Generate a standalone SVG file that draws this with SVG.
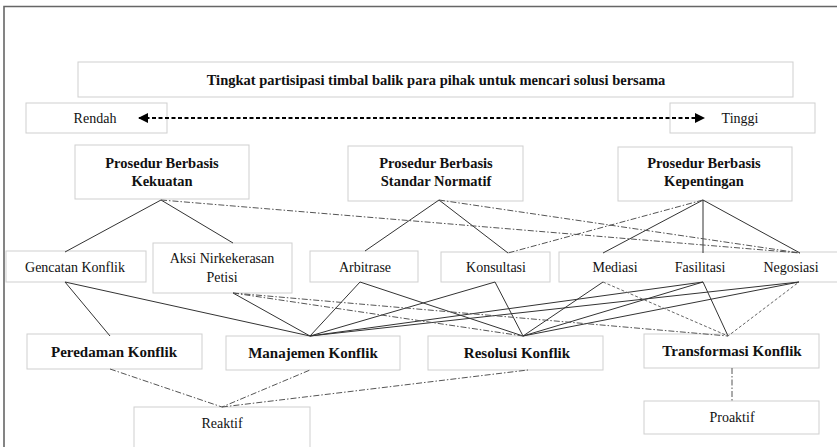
<svg xmlns="http://www.w3.org/2000/svg" width="837" height="447" viewBox="0 0 837 447">
<defs>
<style>
.box{fill:#fff;stroke:#cfcfcf;stroke-width:1}
.t{font-family:"Liberation Serif","Times New Roman",serif;font-size:14px;fill:#111;text-anchor:middle}
.b{font-weight:bold;font-size:14.5px}
.b15{font-weight:bold;font-size:15px}
.s{stroke:#333;stroke-width:1;fill:none}
.d{stroke:#555;stroke-width:1;fill:none;stroke-dasharray:6,2,1.5,2}
.o{stroke:#666;stroke-width:1;fill:none;stroke-dasharray:3,2}
</style>
<marker id="ah" viewBox="0 0 10 10" refX="9" refY="5" markerWidth="5" markerHeight="5" orient="auto-start-reverse">
<path d="M0,0 L10,5 L0,10 z" fill="#000"/>
</marker>
</defs>
<rect width="837" height="447" fill="#fff"/>
<path d="M4,447 V6.5 H837" stroke="#666" stroke-width="1.6" fill="none"/>

<g id="title"><rect class="box" x="78" y="62" width="715" height="35"/><text class="t b" x="436" y="85">Tingkat partisipasi timbal balik para pihak untuk mencari solusi bersama</text></g>
<g id="rendah"><rect class="box" x="26" y="103" width="141" height="30"/><text class="t" x="95" y="123">Rendah</text></g>
<g id="tinggi"><rect class="box" x="670" y="103" width="145" height="30"/><text class="t" x="740" y="123">Tinggi</text></g>

<g id="kekuatan"><rect class="box" x="75" y="145" width="174" height="54"/><text class="t b" x="162" y="168">Prosedur Berbasis</text><text class="t b" x="162" y="186">Kekuatan</text></g>
<g id="normatif"><rect class="box" x="348" y="146" width="175" height="55"/><text class="t b" x="436" y="168">Prosedur Berbasis</text><text class="t b" x="436" y="186">Standar Normatif</text></g>
<g id="kepentingan"><rect class="box" x="618" y="147" width="174" height="54"/><text class="t b" x="704" y="168">Prosedur Berbasis</text><text class="t b" x="704" y="186">Kepentingan</text></g>

<g id="gencatan"><rect class="box" x="6" y="251" width="140" height="31"/><text class="t" x="75" y="272">Gencatan Konflik</text></g>
<g id="aksi"><rect class="box" x="153" y="243" width="139" height="50"/><text class="t" x="222" y="263">Aksi Nirkekerasan</text><text class="t" x="222" y="282">Petisi</text></g>
<g id="arbitrase"><rect class="box" x="310" y="251" width="108" height="31"/><text class="t" x="365" y="272">Arbitrase</text></g>
<g id="konsultasi"><rect class="box" x="441" y="252" width="109" height="30"/><text class="t" x="496" y="272">Konsultasi</text></g>
<g id="mfn"><rect class="box" x="559" y="252" width="290" height="30"/><text class="t" x="615" y="272">Mediasi</text><text class="t" x="700" y="272">Fasilitasi</text><text class="t" x="791" y="272">Negosiasi</text></g>

<g id="peredaman"><rect class="box" x="27" y="334" width="175" height="35"/><text class="t b15" x="114" y="357">Peredaman Konflik</text></g>
<g id="manajemen"><rect class="box" x="226" y="336" width="174" height="34"/><text class="t b15" x="313" y="358">Manajemen Konflik</text></g>
<g id="resolusi"><rect class="box" x="428" y="336" width="175" height="34"/><text class="t b15" x="517" y="358">Resolusi Konflik</text></g>
<g id="transformasi"><rect class="box" x="644" y="334" width="175" height="34"/><text class="t b15" x="732" y="356">Transformasi Konflik</text></g>
<g id="reaktif"><rect class="box" x="134" y="407" width="176" height="45"/><text class="t" x="222" y="428">Reaktif</text></g>
<g id="proaktif"><rect class="box" x="644" y="401" width="175" height="33"/><text class="t" x="732" y="422">Proaktif</text></g>

<g id="connectors">
<line x1="139" y1="118" x2="704" y2="118" stroke="#000" stroke-width="2" stroke-dasharray="4,2.5" marker-start="url(#ah)" marker-end="url(#ah)"/>
<path class="s" d="M65,252 L161,200 L233,243"/>
<path class="s" d="M365,251 L439,200 L508,253"/>
<path class="s" d="M603,253 L703,200 L800,253 M703,200 V253"/>
<path class="d" d="M161,200 L800,253 M439,200 L800,253 M703,200 L508,253"/>
<path class="s" d="M110,336 L65,282 L310,336 L233,293"/>
<path class="s" d="M310,336 L360,282 L523,336 L495,282 L310,336"/>
<path class="s" d="M523,336 L603,282"/>
<path class="s" d="M310,336 L703,282 L728,336 M523,336 L703,282"/>
<path class="s" d="M310,336 L799,282 L523,336"/>
<path class="d" d="M233,293 L523,336 M233,293 L728,336"/>
<path class="o" d="M603,282 L728,336 L799,282"/>
<path class="d" d="M110,369 L222,407 L310,370 M222,407 L528,370 M732,368 V401"/>
</g>
</svg>
